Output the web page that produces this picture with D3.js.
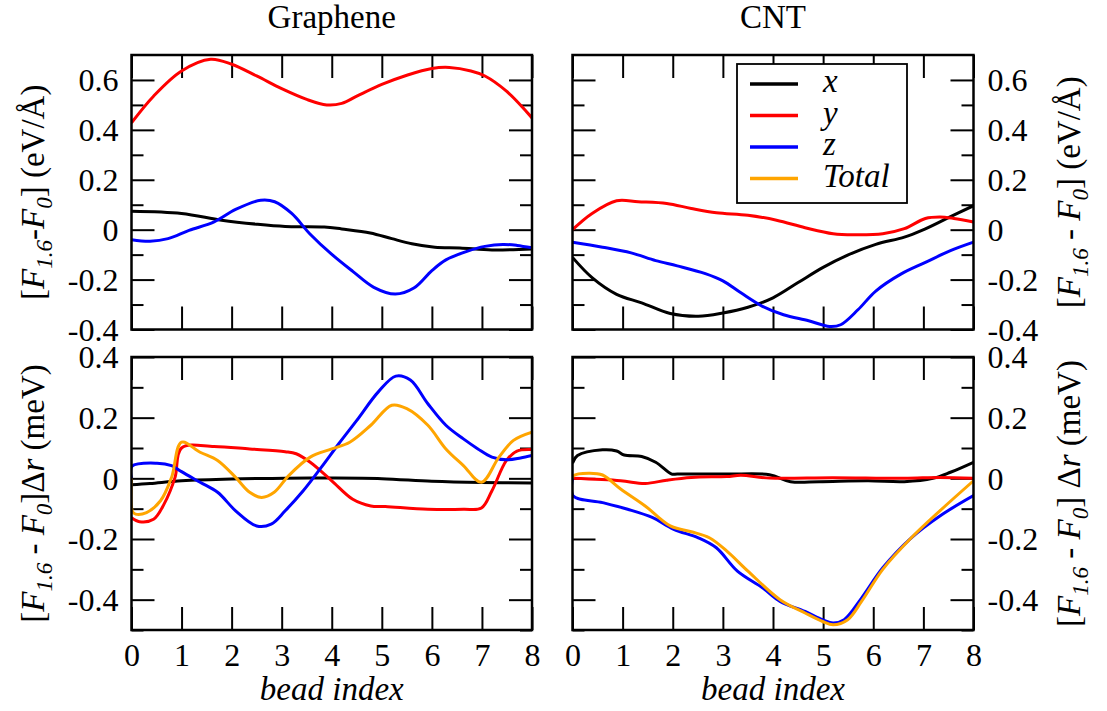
<!DOCTYPE html>
<html>
<head>
<meta charset="utf-8">
<script src="https://cdn.jsdelivr.net/npm/d3@7"></script>
<style>
  body { margin: 0; background: #fff; }
  svg { display: block; }
  .tick line { stroke: #000; stroke-width: 2; }
</style>
</head>
<body>
<svg></svg>
<script>
// ---- data: [bead index, value] ----
const grapheneForceX = [[0,.074],[1,.065],[1.8,.038],[2.5,.022],[3.07,.013],[3.85,.011],[4.2,.003],[4.77,-.013],[5.2,-.036],[5.6,-.056],[6.06,-.07],[6.56,-.073],[7.2,-.081],[8,-.077]];
const grapheneForceY = [[0,.428],[.44,.535],[1,.636],[1.58,.683],[2,.663],[2.5,.616],[3,.565],[3.5,.522],[3.9,.50],[4.2,.506],[4.5,.535],[5,.582],[5.5,.619],[6,.646],[6.35,.65],[6.78,.636],[7.06,.616],[7.49,.555],[8,.448]];
const grapheneForceZ = [[0,-.04],[.37,-.046],[.73,-.036],[1.15,-.003],[1.65,.031],[2.08,.081],[2.58,.118],[2.86,.112],[3.2,.065],[3.56,-.016],[3.99,-.097],[4.42,-.167],[4.84,-.231],[5.27,-.258],[5.64,-.234],[6,-.164],[6.28,-.121],[6.7,-.087],[7.06,-.067],[7.42,-.059],[7.7,-.063],[8,-.073]];

const cntForceX = [[0,-.111],[.39,-.192],[.88,-.259],[1.38,-.293],[1.95,-.336],[2.51,-.347],[3,-.334],[3.5,-.311],[4,-.273],[4.5,-.212],[5,-.151],[5.5,-.101],[6.05,-.059],[6.62,-.03],[6.97,-.003],[7.47,.045],[8,.096]];
const cntForceY = [[0,0],[.39,.065],[.88,.116],[1.31,.112],[1.88,.105],[2.37,.085],[2.87,.068],[3.5,.058],[4.07,.038],[4.64,.008],[5.2,-.016],[5.63,-.02],[6.19,-.016],[6.62,.004],[7.04,.045],[7.33,.051],[7.61,.045],[8,.031]];
const cntForceZ = [[0,-.05],[.6,-.07],[1.17,-.093],[1.66,-.124],[2.09,-.145],[2.65,-.176],[3,-.205],[3.36,-.253],[3.79,-.307],[4.21,-.341],[4.71,-.365],[5.13,-.388],[5.35,-.381],[5.7,-.32],[6.05,-.246],[6.55,-.178],[7.04,-.131],[7.54,-.084],[8,-.05]];

const grapheneWorkX = [[0,-.021],[.37,-.017],[1,-.008],[2,-.002],[3.07,0],[4,.001],[5,-.001],[6,-.01],[7,-.014],[8,-.015]];
const grapheneWorkY = [[0,-.13],[.16,-.143],[.44,-.135],[.65,-.085],[.87,.003],[1,.1],[1.65,.105],[2.36,.097],[3.07,.088],[3.29,.081],[3.57,.053],[4,-.008],[4.42,-.069],[4.78,-.091],[5.07,-.093],[5.92,-.102],[6.63,-.102],[6.99,-.098],[7.2,-.041],[7.49,.059],[7.7,.09],[8,.095]];
const grapheneWorkZ = [[0,0],[.01,.04],[.51,.05],[.8,.042],[1,.022],[1.37,-.013],[1.72,-.046],[2.08,-.107],[2.5,-.157],[2.79,-.151],[3.07,-.107],[3.43,-.041],[3.79,.036],[4.14,.114],[4.5,.191],[4.93,.285],[5.28,.337],[5.57,.324],[5.92,.246],[6.28,.175],[6.63,.13],[6.92,.097],[7.2,.07],[7.49,.061],[7.77,.067],[8,.075]];
const grapheneWorkTotal = [[0,0],[.02,-.11],[.08,-.118],[.3,-.113],[.58,-.074],[.8,.003],[1,.119],[1.37,.086],[1.72,.059],[2.08,.003],[2.36,-.046],[2.6,-.063],[2.85,-.046],[3.14,.009],[3.57,.07],[4,.097],[4.36,.119],[4.78,.175],[5.2,.241],[5.5,.23],[5.92,.175],[6.28,.097],[6.63,.042],[6.99,-.013],[7.34,.07],[7.63,.125],[8,.152]];

const cntWorkX = [[0,.05],[.1,.075],[.6,.094],[.88,.09],[1.03,.077],[1.38,.072],[1.66,.053],[1.98,.014],[2.09,.014],[3.08,.014],[3.93,.012],[4.35,-.011],[4.92,-.011],[5.9,-.008],[6.62,-.011],[7.19,0],[7.54,.02],[8,.053]];
const cntWorkY = [[0,0],[.96,-.008],[1.45,-.017],[1.88,-.006],[2.37,.003],[3.08,.006],[3.36,.01],[3.93,.001],[5.2,.002],[6.62,0],[7.33,.003],[8,0]];
const cntWorkZ = [[0,0],[.01,-.057],[.6,-.08],[1.1,-.102],[1.59,-.129],[2.02,-.168],[2.51,-.196],[2.87,-.229],[3.29,-.306],[3.79,-.361],[4.14,-.406],[4.64,-.439],[4.99,-.466],[5.2,-.477],[5.42,-.466],[5.77,-.394],[6.19,-.295],[6.76,-.196],[7.33,-.124],[8,-.057]];
const cntWorkTotal = [[0,0],[.02,.009],[.32,.017],[.6,.011],[.96,-.035],[1.45,-.091],[1.95,-.157],[2.37,-.176],[2.73,-.196],[3.08,-.24],[3.5,-.306],[4.14,-.4],[4.64,-.444],[4.99,-.472],[5.2,-.483],[5.49,-.466],[5.77,-.405],[6.19,-.3],[6.76,-.196],[7.33,-.107],[8,-.008]];

const beadTicks = [0, 1, 2, 3, 4, 5, 6, 7, 8];
const forceTicks = [-0.4, -0.2, 0, 0.2, 0.4, 0.6];
const forceMinor = [-0.3, -0.1, 0.1, 0.3, 0.5];
const workTicks = [-0.4, -0.2, 0, 0.2, 0.4];
const workMinor = [-0.5, -0.3, -0.1, 0.1, 0.3];
const seriesNames = ["x", "y", "z", "Total"];
const seriesColors = ["#000000", "#ff0000", "#0000ff", "#ffa500"];
const columnTitles = ["Graphene", "CNT"];

// label pieces: [text, italic, subscript]
const forceLabelLeft = [["[",0,0],["F",1,0],["1.6",1,1],["-",0,0],["F",1,0],["0",1,1],["] (eV/Å)",0,0]];
const forceLabelRight = [["[",0,0],["F",1,0],["1.6",1,1],[" - ",0,0],["F",1,0],["0",1,1],["] (eV/Å)",0,0]];
const workLabelLeft = [["[",0,0],["F",1,0],["1.6",1,1],[" - ",0,0],["F",1,0],["0",1,1],["]Δ",0,0],["r",1,0],[" (meV)",0,0]];
const workLabelRight = [["[",0,0],["F",1,0],["1.6",1,1],[" - ",0,0],["F",1,0],["0",1,1],["] Δ",0,0],["r",1,0],[" (meV)",0,0]];

const serif = "'Liberation Serif', 'DejaVu Serif', serif";

const svg = d3.select("svg").attr("width", 1107).attr("height", 711)
  .attr("font-family", serif);

const cols = [{ x0: 131.5, x1: 532 }, { x0: 572.5, x1: 973.5 }];
const rows = [{ y0: 55, y1: 329.5 }, { y0: 357, y1: 630 }];

const panels = [
  { col: 0, row: 0, domain: [-0.4, 0.7], ticks: forceTicks, minor: forceMinor, label: forceLabelLeft, series: [grapheneForceX, grapheneForceY, grapheneForceZ] },
  { col: 1, row: 0, domain: [-0.4, 0.7], ticks: forceTicks, minor: forceMinor, label: forceLabelRight, series: [cntForceX, cntForceY, cntForceZ], legend: true },
  { col: 0, row: 1, domain: [-0.5, 0.4], ticks: workTicks, minor: workMinor, label: workLabelLeft, series: [grapheneWorkX, grapheneWorkY, grapheneWorkZ, grapheneWorkTotal] },
  { col: 1, row: 1, domain: [-0.5, 0.4], ticks: workTicks, minor: workMinor, label: workLabelRight, series: [cntWorkX, cntWorkY, cntWorkZ, cntWorkTotal] }
];

const fmt = d => d === 0 ? "0" : d.toFixed(1);

function richLabel(sel, parts) {
  let shift = 0;
  parts.forEach(([t, it, sub]) => {
    const target = sub ? 8 : 0;
    sel.append("tspan")
      .attr("dy", target - shift)
      .attr("font-family", serif)
      .attr("font-style", it ? "italic" : "normal")
      .attr("font-size", sub ? 23 : 33)
      .text(t);
    shift = target;
  });
}

function styleAxis(g) {
  g.attr("font-family", serif).attr("font-size", 32);
  g.selectAll("text").attr("font-family", serif).attr("fill", "#000");
  g.select(".domain").remove();
}

panels.forEach((p, i) => {
  const { x0, x1 } = cols[p.col];
  const { y0, y1 } = rows[p.row];
  const x = d3.scaleLinear().domain([0, 8]).range([x0, x1]);
  const y = d3.scaleLinear().domain(p.domain).range([y1, y0]);
  const isRight = p.col === 1;
  const isBottom = p.row === 1;

  svg.append("clipPath").attr("id", "clip" + i)
    .append("rect").attr("x", x0).attr("y", y0).attr("width", x1 - x0).attr("height", y1 - y0);

  // bottom & top x ticks
  svg.append("g").attr("transform", `translate(0,${y1})`)
    .call(d3.axisBottom(x).tickValues(beadTicks).tickSizeInner(-23).tickSizeOuter(0).tickPadding(13)
      .tickFormat(isBottom ? d3.format("d") : ""))
    .call(styleAxis);
  svg.append("g").attr("transform", `translate(0,${y0})`)
    .call(d3.axisTop(x).tickValues(beadTicks).tickSizeInner(-23).tickSizeOuter(0).tickFormat(""))
    .call(styleAxis);

  // left & right y ticks
  svg.append("g").attr("transform", `translate(${x0},0)`)
    .call(d3.axisLeft(y).tickValues(p.ticks).tickSizeInner(-23).tickSizeOuter(0).tickPadding(13)
      .tickFormat(isRight ? "" : fmt))
    .call(styleAxis)
    .selectAll("text").attr("dy", "0.34em");
  svg.append("g").attr("transform", `translate(${x0},0)`)
    .call(d3.axisLeft(y).tickValues(p.minor).tickSizeInner(-12).tickSizeOuter(0).tickFormat(""))
    .call(styleAxis);
  svg.append("g").attr("transform", `translate(${x1},0)`)
    .call(d3.axisRight(y).tickValues(p.ticks).tickSizeInner(-23).tickSizeOuter(0).tickPadding(14)
      .tickFormat(isRight ? fmt : ""))
    .call(styleAxis)
    .selectAll("text").attr("dy", "0.34em");
  svg.append("g").attr("transform", `translate(${x1},0)`)
    .call(d3.axisRight(y).tickValues(p.minor).tickSizeInner(-12).tickSizeOuter(0).tickFormat(""))
    .call(styleAxis);

  const line = d3.line().x(d => x(d[0])).y(d => y(d[1])).curve(d3.curveCatmullRom.alpha(0.5));
  const g = svg.append("g").attr("clip-path", `url(#clip${i})`);
  p.series.forEach((s, k) => {
    g.append("path").datum(s)
      .attr("d", line)
      .attr("fill", "none")
      .attr("stroke", seriesColors[k])
      .attr("stroke-width", 3)
      .attr("stroke-linejoin", "round");
  });

  svg.append("rect")
    .attr("x", x0).attr("y", y0).attr("width", x1 - x0).attr("height", y1 - y0)
    .attr("fill", "none").attr("stroke", "#000").attr("stroke-width", 2.5);

  // y-axis title
  const cy = (y0 + y1) / 2;
  const lx = isRight ? 1080 : 44;
  const t = svg.append("text")
    .attr("transform", `translate(${lx},${cy}) rotate(-90)`)
    .attr("text-anchor", "middle");
  richLabel(t, p.label);

  if (isBottom) {
    svg.append("text")
      .attr("x", (x0 + x1) / 2).attr("y", 700)
      .attr("text-anchor", "middle")
      .attr("font-family", serif)
      .attr("font-size", 33).attr("font-style", "italic")
      .text("bead index");
  } else {
    svg.append("text")
      .attr("x", (x0 + x1) / 2).attr("y", 28)
      .attr("text-anchor", "middle")
      .attr("font-family", serif)
      .attr("font-size", 33)
      .text(columnTitles[p.col]);
  }

  if (p.legend) {
    const lg = svg.append("g").attr("transform", "translate(737,64)");
    lg.append("rect").attr("width", 170).attr("height", 139)
      .attr("fill", "#fff").attr("stroke", "#000").attr("stroke-width", 1.8);
    seriesNames.forEach((name, k) => {
      const ly = 20 + k * 31.5;
      lg.append("line").attr("x1", 13).attr("x2", 61).attr("y1", ly).attr("y2", ly)
        .attr("stroke", seriesColors[k]).attr("stroke-width", 3.5);
      lg.append("text").attr("x", 86).attr("y", ly + 8)
        .attr("font-family", serif)
        .attr("font-size", 33).attr("font-style", "italic")
        .text(name);
    });
  }
});
</script>
</body>
</html>
